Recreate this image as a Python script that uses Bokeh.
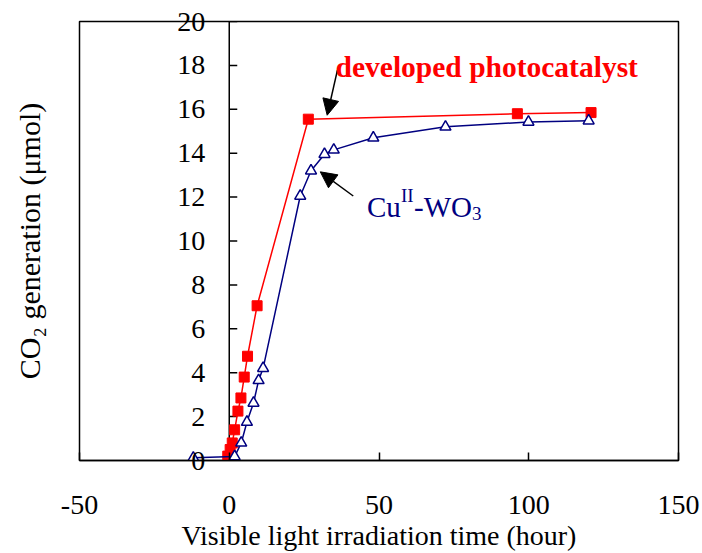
from bokeh.plotting import figure
from bokeh.models import Range1d, LinearAxis, FixedTicker, Arrow, NormalHead, ColumnDataSource
from bokeh.core.properties import value
from bokeh.embed import file_html
from bokeh.resources import INLINE

# ---------------- data ----------------
dev_time = [-0.5, 0.3, 1.0, 1.8, 2.9, 3.9, 5.0, 6.1, 9.3, 26.4, 96.2, 120.8]
dev_co2 = [0.2, 0.5, 0.8, 1.4, 2.25, 2.85, 3.8, 4.75, 7.05, 15.55, 15.8, 15.85]

cu_time = [-12.0, 1.8, 4.0, 5.9, 8.1, 9.8, 11.3, 23.7, 27.3, 31.8, 34.9, 48.1, 72.2, 99.9, 120.0]
cu_co2 = [0.12, 0.18, 0.8, 1.75, 2.62, 3.65, 4.2, 12.05, 13.2, 13.95, 14.15, 14.7, 15.2, 15.42, 15.48]

x_ticks = [-50, 0, 50, 100, 150]
x_tick_labels = ["-50", "0", "50", "100", "150"]
y_ticks = [0, 2, 4, 6, 8, 10, 12, 14, 16, 18, 20]
y_tick_labels = ["0", "2", "4", "6", "8", "10", "12", "14", "16", "18", "20"]

x_title = "Visible light irradiation time (hour)"
y_title = "CO\u2082 generation (\u03bcmol)"
dev_label = "developed photocatalyst"
cu_label_parts = ["Cu", "II", "-WO", "3"]

# annotation anchors (data units)
dev_label_pos = (35.5, 17.92)
cu_label_pos = (46.0, 11.55)
dev_arrow = (36.1, 17.77, 32.7, 15.73)
cu_arrow = (41.4, 12.05, 30.4, 13.15)

FONT = "Liberation Serif"
RED = "#FF0000"
NAVY = "#000080"

p = figure(width=702, height=553,
           x_range=Range1d(-50, 150), y_range=Range1d(0, 20),
           x_axis_type=None, y_axis_type=None,
           output_backend="svg", toolbar_location=None,
           min_border_left=79, min_border_right=24,
           min_border_top=21, min_border_bottom=92)
p.outline_line_color = "black"
p.outline_line_width = 1.5
p.background_fill_color = "white"
p.border_fill_color = "white"

# bottom axis
xaxis = LinearAxis(ticker=FixedTicker(ticks=x_ticks))
xaxis.major_label_overrides = {t: s for t, s in zip(x_ticks, x_tick_labels)}
xaxis.major_tick_in = 8
xaxis.major_tick_out = 0
xaxis.minor_tick_line_color = None
xaxis.major_tick_line_width = 1.5
xaxis.axis_line_width = 1.5
xaxis.major_label_standoff = 35
xaxis.major_label_text_font = FONT
xaxis.major_label_text_font_size = "28px"
xaxis.major_label_text_color = "black"
xaxis.axis_label = x_title
xaxis.axis_label_text_font = FONT
xaxis.axis_label_text_font_size = "28px"
xaxis.axis_label_text_font_style = "normal"
xaxis.axis_label_text_color = "black"
xaxis.axis_label_standoff = 3
p.add_layout(xaxis, "below")

# left axis only carries the title
yaxis = LinearAxis(ticker=FixedTicker(ticks=[]))
yaxis.axis_line_color = None
yaxis.major_tick_line_color = None
yaxis.minor_tick_line_color = None
yaxis.major_label_standoff = 0
yaxis.axis_label = y_title
yaxis.axis_label_text_font = FONT
yaxis.axis_label_text_font_size = "30px"
yaxis.axis_label_text_font_style = "normal"
yaxis.axis_label_text_color = "black"
yaxis.axis_label_standoff = 34
p.add_layout(yaxis, "left")

# y axis drawn at x = 0
n = len(y_ticks)
p.segment(x0=[0], y0=[y_ticks[0]], x1=[0], y1=[y_ticks[-1]], line_color="black", line_width=1.5)
p.ray(x=[0] * n, y=y_ticks, length=8, length_units="screen", angle=0,
      line_color="black", line_width=1.5)
p.text(x=[0] * n, y=y_ticks, text=y_tick_labels, text_align="right", text_baseline="middle",
       x_offset=-24, text_font=value(FONT), text_font_size="28px", text_color="black",
       level="overlay")

# series
p.line(dev_time, dev_co2, line_color=RED, line_width=1.5)
p.scatter(dev_time, dev_co2, marker="square", size=10, fill_color=RED, line_color=RED)
p.line(cu_time, cu_co2, line_color=NAVY, line_width=1.5)
p.scatter(cu_time, cu_co2, marker="triangle", size=11, fill_color="white",
          line_color=NAVY, line_width=1.5)

# arrows
for (xs, ys, xe, ye) in (dev_arrow, cu_arrow):
    p.add_layout(Arrow(end=NormalHead(size=16, fill_color="black", line_color="black"),
                       x_start=xs, y_start=ys, x_end=xe, y_end=ye,
                       line_color="black", line_width=1.5))

# labels
p.text(x=[dev_label_pos[0]], y=[dev_label_pos[1]], text=[dev_label], text_color=RED,
       text_font=value(FONT), text_font_style="bold", text_font_size="29.5px",
       text_baseline="alphabetic", text_align="left", level="overlay")

cu_src = ColumnDataSource(dict(
    x=[cu_label_pos[0]] * 4, y=[cu_label_pos[1]] * 4, text=cu_label_parts,
    xo=[0, 34, 47, 105], yo=[0, -11, 0, 7],
    fs=["29px", "19px", "29px", "19px"]))
p.text(x="x", y="y", text="text", x_offset="xo", y_offset="yo", text_font_size="fs",
       source=cu_src, text_color=NAVY, text_font=value(FONT),
       text_baseline="alphabetic", text_align="left", level="overlay")

open("out.html", "w").write(file_html(p, INLINE))
